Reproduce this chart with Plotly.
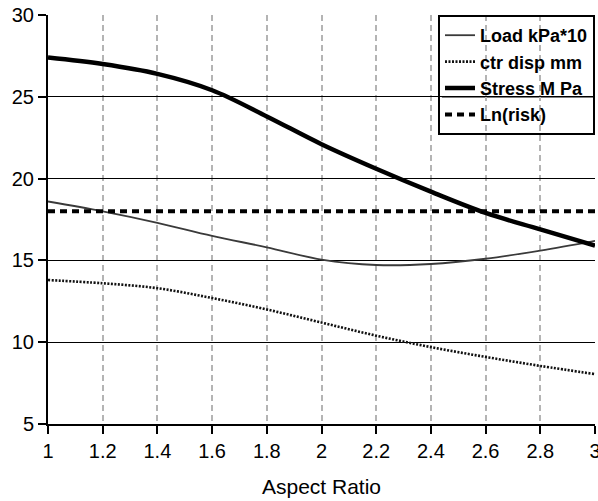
import plotly.graph_objects as go

aspect_ratio = [1.0, 1.2, 1.4, 1.6, 1.8, 2.0, 2.2, 2.4, 2.6, 2.8, 3.0]
load_kpa10 = [18.6, 18.0, 17.3, 16.5, 15.8, 15.05, 14.72, 14.78, 15.1, 15.6, 16.2]
ctr_disp_mm = [13.8, 13.6, 13.3, 12.7, 12.0, 11.2, 10.4, 9.7, 9.1, 8.55, 8.05]
stress_mpa = [27.4, 27.0, 26.4, 25.4, 23.8, 22.1, 20.6, 19.2, 17.9, 16.9, 15.9]
ln_risk = [18.0] * len(aspect_ratio)

FONT = "Liberation Sans, Arial, sans-serif"

fig = go.Figure()
fig.add_trace(go.Scatter(x=aspect_ratio, y=load_kpa10, name="Load kPa*10", mode="lines",
                         line=dict(color="#3a3a3a", width=1.8, shape="spline")))
fig.add_trace(go.Scatter(x=aspect_ratio, y=ctr_disp_mm, name="ctr disp mm", mode="lines",
                         line=dict(color="#111111", width=2.6, dash="2px,1.5px", shape="spline")))
fig.add_trace(go.Scatter(x=aspect_ratio, y=stress_mpa, name="Stress M Pa", mode="lines",
                         line=dict(color="#000000", width=4.5, shape="spline")))
fig.add_trace(go.Scatter(x=aspect_ratio, y=ln_risk, name="Ln(risk)", mode="lines",
                         line=dict(color="#000000", width=4, dash="7px,5px")))

# white panel behind the legend (hides vertical gridlines), horizontal gridline redrawn over it
fig.add_shape(type="rect", xref="paper", yref="paper", x0=0.72, x1=1.0, y0=0.705, y1=1.0,
              fillcolor="white", line=dict(width=0), layer="between")
fig.add_shape(type="line", xref="paper", yref="y", x0=0.72, x1=1.0, y0=25, y1=25,
              line=dict(color="black", width=1.3), layer="between")

fig.update_layout(
    width=598, height=501,
    margin=dict(l=48, r=3, t=15, b=77),
    paper_bgcolor="white", plot_bgcolor="white",
    font=dict(family=FONT, color="black"),
    showlegend=True,
    legend=dict(x=1.0, xanchor="right", y=1.0, yanchor="top",
                bgcolor="rgba(0,0,0,0)", bordercolor="black", borderwidth=2,
                font=dict(family=FONT, size=18, color="black", weight="bold"),
                tracegroupgap=0),
)
fig.update_xaxes(range=[1, 3], tick0=1, dtick=0.2, tickmode="linear", automargin=False,
                 showline=True, linecolor="black", linewidth=2,
                 ticks="outside", ticklen=8, tickwidth=1.5, tickcolor="black",
                 showgrid=True, gridcolor="#b4b4b4", gridwidth=2, griddash="6px,4px",
                 zeroline=False, tickfont=dict(size=20, family=FONT),
                 ticklabeloverflow="allow",
                 title=dict(text="Aspect Ratio", font=dict(size=21, family=FONT), standoff=18))
fig.update_yaxes(range=[5, 30], tick0=5, dtick=5, tickmode="linear", automargin=False,
                 showline=True, linecolor="black", linewidth=2,
                 ticks="outside", ticklen=8, tickwidth=1.5, tickcolor="black",
                 showgrid=True, gridcolor="black", gridwidth=1.3,
                 zeroline=False, tickfont=dict(size=20, family=FONT),
                 ticklabeloverflow="allow")

# remove the browser's default 8px body margin so the figure fills the window exactly
fig.write_html("out.html", config={"displayModeBar": False},
               post_script="document.body.style.margin='0';")
